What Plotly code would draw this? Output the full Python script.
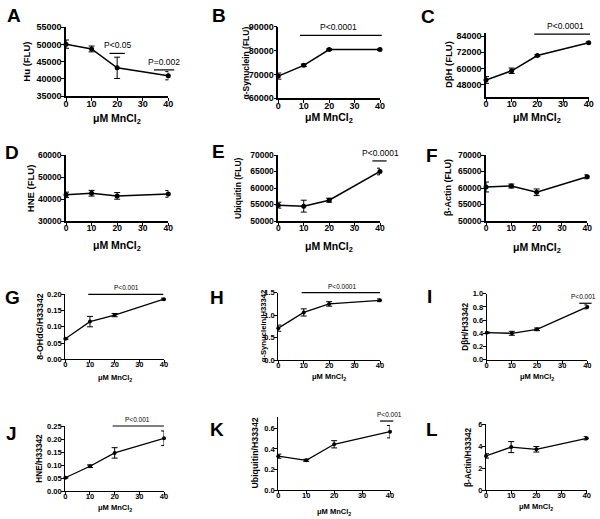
import plotly.graph_objects as go

W, H = 600, 519
conc = [0, 10, 20, 40]

hu = [50100, 48700, 43200, 40900]
hu_err = [1200, 850, 3100, 1200]
asyn = [69300, 73800, 80400, 80400]
asyn_err = [1300, 500, 300, 300]
dbh = [51500, 58300, 69600, 79000]
dbh_err = [2500, 2000, 700, 600]
hne = [42000, 42700, 41500, 42400]
hne_err = [1200, 1300, 1500, 1500]
ubq = [54800, 54500, 56300, 65000]
ubq_err = [900, 1800, 600, 1000]
bact = [60300, 60600, 58700, 63400]
bact_err = [1500, 600, 1000, 600]
ohdg_r = [0.063, 0.116, 0.136, 0.185]
ohdg_r_err = [0.002, 0.016, 0.005, 0.003]
asyn_r = [0.71, 1.06, 1.25, 1.33]
asyn_r_err = [0.07, 0.08, 0.05, 0.03]
dbh_r = [0.41, 0.40, 0.46, 0.80]
dbh_r_err = [0.01, 0.03, 0.02, 0.03]
hne_r = [0.052, 0.096, 0.147, 0.203]
hne_r_err = [0.002, 0.005, 0.02, 0.028]
ubq_r = [0.33, 0.29, 0.445, 0.567]
ubq_r_err = [0.02, 0.01, 0.035, 0.06]
bact_r = [3.1, 3.9, 3.7, 4.7]
bact_r_err = [0.2, 0.5, 0.25, 0.15]

x_ticks = [0, 10, 20, 30, 40]
x_label = "μM MnCl<sub>2</sub>"

panels = [
    dict(L="A", y=hu, e=hu_err, yl="Hu (FLU)", yf=9.5, yr=[35000, 55000], yt=[35000, 40000, 45000, 50000, 55000], fmt="d",
         box=(66, 168.3, 27.3, 96), ytx=27, xty=119, lp=(14, 15),
         pv=[("P<0.05", 17, 23, 47400, 20), ("P=0.002", 34.4, 42.3, 42600, 38.3)], row=1),
    dict(L="B", y=asyn, e=asyn_err, yl="α-Synuclein (FLU)", yf=8.5, yr=[60000, 90000], yt=[60000, 70000, 80000, 90000], fmt="d",
         box=(278.3, 380, 26.7, 98.3), ytx=246, xty=118, lp=(219, 16),
         pv=[("P<0.0001", 8.5, 40.7, 86400, 23.6)], row=1),
    dict(L="C", y=dbh, e=dbh_err, yl="DβH (FLU)", yf=9.5, yr=[39000, 86000], yt=[48000, 60000, 72000, 84000], fmt="d",
         box=(486, 588.7, 33.3, 96.9), ytx=448, xty=118, lp=(428, 17),
         pv=[("P<0.0001", 18.8, 40.5, 85400, 30.8)], row=1),
    dict(L="D", y=hne, e=hne_err, yl="HNE (FLU)", yf=9.5, yr=[30000, 60000], yt=[30000, 40000, 50000, 60000], fmt="d",
         box=(66, 168.3, 155, 221.3), ytx=30, xty=246, lp=(12, 152), pv=[], row=2),
    dict(L="E", y=ubq, e=ubq_err, yl="Ubiquitin (FLU)", yf=8.5, yr=[50000, 70000], yt=[50000, 55000, 60000, 65000, 70000], fmt="d",
         box=(278.3, 380, 155, 221), ytx=238, xty=247, lp=(218, 151),
         pv=[("P<0.0001", 37, 42.6, 68200, 40)], row=2),
    dict(L="F", y=bact, e=bact_err, yl="β-Actin (FLU)", yf=9, yr=[50000, 70000], yt=[50000, 55000, 60000, 65000, 70000], fmt="d",
         box=(486, 587.3, 155, 221), ytx=448, xty=248, lp=(432, 155), pv=[], row=2),
    dict(L="G", y=ohdg_r, e=ohdg_r_err, yl="8-OHdG/H33342", yf=8.8, yr=[0, 0.2], yt=[0, 0.05, 0.1, 0.15, 0.2], fmt=".2f",
         box=(65.3, 164, 294.3, 359.3), ytx=40, xty=378, lp=(12, 297),
         pv=[("P<0.001", 9.3, 39.7, 0.2, 24.6)], row=3),
    dict(L="H", y=asyn_r, e=asyn_r_err, yl="α-Synuclein/H33342", yf=7.7, yr=[0, 1.5], yt=[0, 0.5, 1.0, 1.5], fmt=".1f",
         box=(278.3, 380, 292.7, 360), ytx=263, xty=377, lp=(217, 297),
         pv=[("P<0.0001", 9.2, 40, 1.5, 24.9)], row=3),
    dict(L="I", y=dbh_r, e=dbh_r_err, yl="DβH/H33342", yf=8.2, yr=[0, 1.0], yt=[0, 0.2, 0.4, 0.6, 0.8, 1.0], fmt=".1f",
         box=(486.7, 587.3, 293.7, 359.7), ytx=466, xty=377, lp=(429, 296),
         pv=[("P<0.001", 36.8, 41.7, 0.855, 38.4)], row=3),
    dict(L="J", y=hne_r, e=hne_r_err, yl="HNE/H33342", yf=8.2, yr=[0, 0.25], yt=[0, 0.05, 0.1, 0.15, 0.2, 0.25], fmt=".2f",
         box=(65.3, 164, 426, 491.3), ytx=40, xty=508, lp=(11, 433),
         pv=[("P<0.001", 19.2, 40, 0.25, 29.4)], row=4),
    dict(L="K", y=ubq_r, e=ubq_r_err, yl="Ubiquitin/H33342", yf=8.8, yr=[0, 0.71], yt=[0, 0.2, 0.4, 0.6], fmt=".1f",
         box=(278.3, 390, 416.9, 490.3), ytx=255, xty=512, lp=(217, 429),
         pv=[("P<0.001", 36.4, 41.2, 0.67, 39.9)], row=4),
    dict(L="L", y=bact_r, e=bact_r_err, yl="β-Actin/H33342", yf=8.2, yr=[0, 6], yt=[0, 2, 4, 6], fmt="d",
         box=(486, 586.7, 424, 490), ytx=468, xty=507, lp=(432, 429), pv=[], row=4),
]

FONT = "Liberation Sans, Arial, sans-serif"
fig = go.Figure()
layout = dict(width=W, height=H, margin=dict(l=0, r=0, t=0, b=0, autoexpand=False),
              plot_bgcolor="white", paper_bgcolor="white", showlegend=False,
              annotations=[], shapes=[])

for i, p in enumerate(panels, start=1):
    big = p["row"] <= 2
    x0, x1, yt_, yb_ = p["box"]
    xr = [0, 40]
    sfx = "" if i == 1 else str(i)
    fig.add_trace(go.Scatter(
        x=conc, y=p["y"], mode="lines+markers", xaxis="x" + sfx, yaxis="y" + sfx,
        line=dict(color="black", width=1.5 if big else 1.3),
        marker=dict(color="black", size=5 if big else 4),
        error_y=dict(type="data", array=p["e"], color="black", thickness=1, width=3),
        cliponaxis=False))
    tsize = {1: 9, 2: 8.5, 3: 7.5, 4: 7.5}[p["row"]]
    tickfont = dict(family=FONT, size=tsize, color="black", weight="bold")
    axcommon = dict(showgrid=False, zeroline=False, showline=True, linecolor="black", automargin=False,
                    linewidth=1.5 if big else 1.2, ticks="outside", ticklen=3, tickwidth=1.2,
                    tickcolor="black", tickfont=tickfont)
    layout["xaxis" + sfx] = dict(domain=[x0 / W, x1 / W], range=xr, anchor="y" + sfx,
                                 tickvals=x_ticks, ticklabelstandoff=-5, **axcommon)
    layout["yaxis" + sfx] = dict(domain=[1 - yb_ / H, 1 - yt_ / H], range=p["yr"], anchor="x" + sfx,
                                 tickvals=p["yt"], tickformat=p["fmt"], ticklabelstandoff=-2, **axcommon)

    def to_paper(xv, yv, p=p, x0=x0, x1=x1, yt_=yt_, yb_=yb_, xr=xr):
        px = x0 + (xv - xr[0]) / (xr[1] - xr[0]) * (x1 - x0)
        py = yt_ + (p["yr"][1] - yv) / (p["yr"][1] - p["yr"][0]) * (yb_ - yt_)
        return px / W, 1 - py / H

    layout["annotations"].append(dict(
        text=p["L"], x=p["lp"][0] / W, y=1 - p["lp"][1] / H, xref="paper", yref="paper",
        showarrow=False, xanchor="center", yanchor="middle",
        font=dict(family=FONT, size=19, color="black", weight="bold")))
    layout["annotations"].append(dict(
        text=p["yl"], x=p["ytx"] / W, y=1 - (yt_ + yb_) / 2 / H, xref="paper", yref="paper",
        showarrow=False, textangle=-90, xanchor="center", yanchor="middle",
        font=dict(family=FONT, size=p["yf"], color="black", weight="bold")))
    layout["annotations"].append(dict(
        text=x_label, x=(x0 + x1) / 2 / W, y=1 - p["xty"] / H, xref="paper", yref="paper",
        showarrow=False, xanchor="center", yanchor="middle",
        font=dict(family=FONT, size=10.5 if big else 7.5, color="black", weight="bold")))
    for txt, xa, xb, yv, xtxt in p["pv"]:
        ax, ay = to_paper(xa, yv)
        bx, _ = to_paper(xb, yv)
        layout["shapes"].append(dict(type="line", xref="paper", yref="paper", x0=ax, x1=bx, y0=ay, y1=ay,
                                     line=dict(color="black", width=1.2)))
        tx, _ = to_paper(xtxt, yv)
        layout["annotations"].append(dict(
            text=txt, x=tx, y=ay + 1 / H, xref="paper", yref="paper", showarrow=False,
            xanchor="center", yanchor="bottom",
            font=dict(family=FONT, size=8.5 if big else 6.5, color="black")))

fig.update_layout(**layout)
fig.write_html("out.html", config={"displayModeBar": False},
               post_script="document.body.style.margin='0px';")
